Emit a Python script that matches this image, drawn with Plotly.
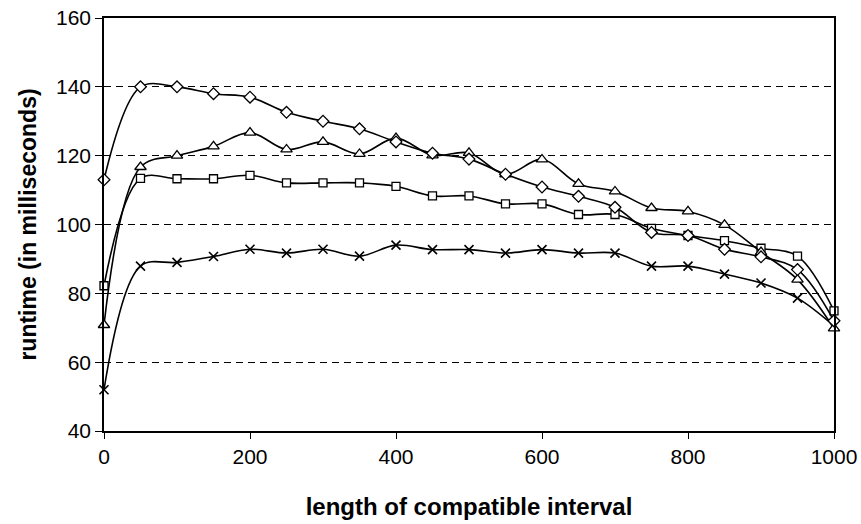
import plotly.graph_objects as go

x_vals = [0, 50, 100, 150, 200, 250, 300, 350, 400, 450, 500, 550, 600, 650, 700, 750, 800, 850, 900, 950, 1000]
diamond_vals = [113, 140, 140, 138, 137, 132.6, 130, 127.8, 124, 120.7, 119, 114.6, 110.9, 108.2, 105, 97.7, 96.8, 92.8, 90.6, 86.9, 72]
triangle_vals = [70.8, 116.7, 120, 122.7, 126.7, 121.8, 124, 120.5, 125.1, 120.1, 120.8, 114.6, 118.9, 111.8, 109.6, 104.8, 103.8, 99.9, 92, 84, 69.8]
square_vals = [82.2, 113.4, 113.3, 113.3, 114.3, 112.1, 112.1, 112.1, 111.1, 108.3, 108.3, 106, 106, 102.9, 102.9, 98.9, 96.8, 95.3, 93.1, 90.8, 74.9]
cross_vals = [52, 87.9, 89, 90.7, 92.8, 91.7, 92.8, 90.8, 94, 92.7, 92.7, 91.7, 92.7, 91.7, 91.7, 87.9, 87.9, 85.6, 83, 78.6, 70.5]

x_ticks = [0, 200, 400, 600, 800, 1000]
y_ticks = [40, 60, 80, 100, 120, 140, 160]

fig = go.Figure()

line_style = dict(color="black", width=1.6, shape="spline", smoothing=1.0)

series = [
    ("cross", cross_vals, dict(symbol="x-thin", size=9, color="black", line=dict(color="black", width=1.6))),
    ("square", square_vals, dict(symbol="square", size=8, color="white", line=dict(color="black", width=1.3))),
    ("triangle", triangle_vals, dict(symbol="triangle-up", size=10, color="white", line=dict(color="black", width=1.3))),
    ("diamond", diamond_vals, dict(symbol="diamond", size=9, color="white", line=dict(color="black", width=1.3))),
]

for name, vals, mk in series:
    fig.add_trace(go.Scatter(x=x_vals, y=vals, mode="lines+markers", name=name,
                             line=line_style, marker=mk, cliponaxis=False))

font_family = "Liberation Sans, Arial, sans-serif"

fig.update_layout(
    width=861, height=524,
    margin=dict(l=104, r=27, t=18, b=93),
    paper_bgcolor="white", plot_bgcolor="white",
    showlegend=False,
    font=dict(family=font_family, size=21, color="black"),
    xaxis=dict(
        range=[0, 1000], tickvals=x_ticks, ticks="outside", ticklen=6, tickcolor="black",
        showline=True, linecolor="black", linewidth=1.6, mirror=True,
        showgrid=False, zeroline=False, automargin=False,
        tickfont=dict(size=21, family=font_family),
        title=dict(text="<b>length of compatible interval</b>", font=dict(size=24, family=font_family), standoff=31),
    ),
    yaxis=dict(
        range=[40, 160], tickvals=y_ticks, ticks="outside", ticklen=7, tickcolor="black",
        showline=True, linecolor="black", linewidth=1.6, mirror=True,
        showgrid=True, gridcolor="black", gridwidth=1, griddash="7px,5px", zeroline=False,
        automargin=False,
        tickfont=dict(size=21, family=font_family),
        title=dict(text="<b>runtime (in milliseconds)</b>", font=dict(size=23, family=font_family), standoff=13),
    ),
)

fig.write_html("out.html")
